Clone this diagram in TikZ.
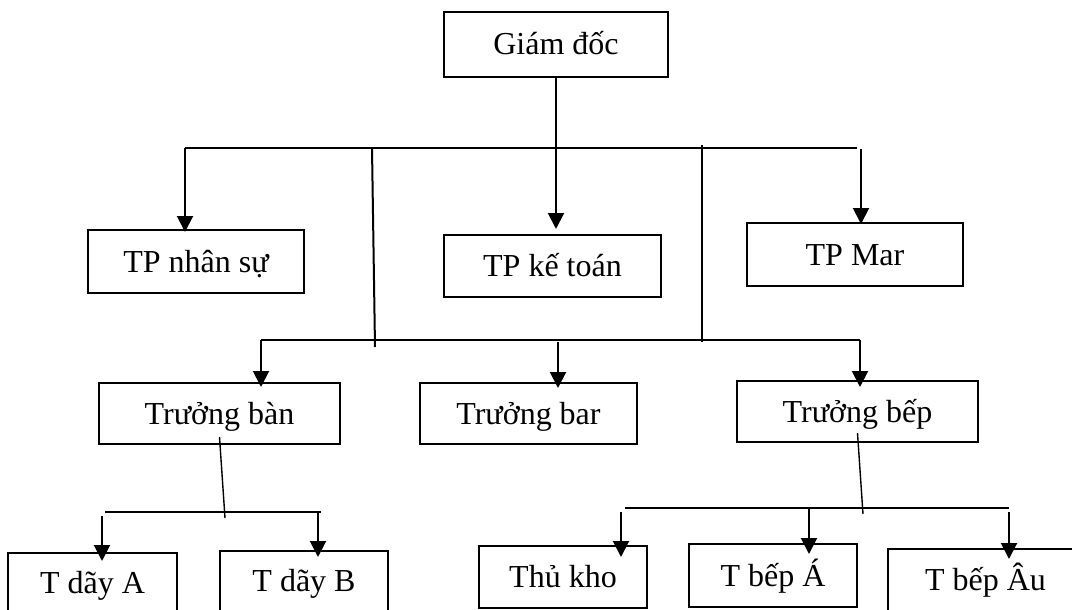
\documentclass[tikz,border=0pt]{standalone}
\usepackage{fontspec}
\setmainfont{Liberation Serif}
\usetikzlibrary{arrows.meta}

\tikzset{
  box/.style={draw, rectangle, line width=2pt, inner sep=0pt,
    text height=21pt, text depth=0pt, font=\fontsize{32}{38}\selectfont},
  link/.style={line width=2pt},
  thinlink/.style={line width=1.4pt},
  arr/.style={link, -{Triangle[width=16pt,length=16pt]}}
}

\begin{document}
\begin{tikzpicture}[x=1pt, y=-1pt]
        \clip (0,0) rectangle (1072,610);

        % Giam doc
        \node[box, minimum width=224pt, minimum height=65pt] (gd) at (556,44.5) {Giám đốc};

        % Truong phong
        \node[box, minimum width=216pt, minimum height=63pt] (tpns) at (196,261.5) {TP nhân sự};
        \node[box, minimum width=217pt, minimum height=62pt] (tpkt) at (552.5,266) {TP kế toán};
        \node[box, minimum width=216pt, minimum height=63pt] (tpmar) at (855,254.5) {TP Mar};

        % Truong bo phan
        \node[box, minimum width=241pt, minimum height=61pt] (tban) at (219.5,413.5) {Trưởng bàn};
        \node[box, minimum width=217pt, minimum height=61pt] (tbar) at (528.5,413.5) {Trưởng bar};
        \node[box, minimum width=241pt, minimum height=61pt] (tbep) at (857.5,411.5) {Trưởng bếp};

        % Cap duoi
        \node[box, minimum width=169pt, minimum height=60pt] (tdA) at (92.5,583) {T dãy A};
        \node[box, minimum width=168pt, minimum height=60pt] (tdB) at (304,581) {T dãy B};
        \node[box, minimum width=168pt, minimum height=62pt] (thukho) at (563,577) {Thủ kho};
        \node[box, minimum width=168pt, minimum height=63pt] (tbepA) at (773,575.5) {T bếp Á};
        \node[box, minimum width=195pt, minimum height=62pt] (tbepAu) at (985.5,580) {T bếp Âu};

        % Bus 1
        \coordinate (b1a) at (185,148);
        \coordinate (b1b) at (857,148);
        \coordinate (b1m) at (861,149);
        \draw[link] (b1a) -- (b1b);
        \draw[arr, shorten >=5pt] (gd.south) -- (gd.south |- tpkt.north);
        \draw[arr, shorten >=-3pt] (b1a) -- (b1a |- tpns.north);
        \draw[arr, shorten >=-2pt] (b1m) -- (b1m |- tpmar.north);

        % Verticals to bus 2
        \coordinate (v1t) at (372,148);
        \coordinate (v1b) at (375,347);
        \coordinate (v2t) at (702,145);
        \coordinate (v2b) at (702,342);
        \draw[link] (v1t) -- (v1b);
        \draw[link] (v2t) -- (v2b);

        % Bus 2
        \coordinate (b2a) at (261,340);
        \coordinate (b2b) at (860,340);
        \coordinate (b2m) at (558,342);
        \draw[link] (b2a) -- (b2b);
        \draw[arr, shorten >=-5pt] (b2a) -- (b2a |- tban.north);
        \draw[arr, shorten >=-6pt] (b2m) -- (b2m |- tbar.north);
        \draw[arr, shorten >=-7pt] (b2b) -- (b2b |- tbep.north);

        % Truong ban -> day
        \coordinate (c1) at (225,518);
        \coordinate (b3a) at (105,512);
        \coordinate (b3b) at (321,512);
        \coordinate (a1) at (102,516);
        \coordinate (a2) at (318,512);
        \draw[thinlink] ([yshift=8pt]tban.south) -- (c1);
        \draw[link] (b3a) -- (b3b);
        \draw[arr, shorten >=-9pt] (a1) -- (a1 |- tdA.north);
        \draw[arr, shorten >=-7pt] (a2) -- (a2 |- tdB.north);

        % Truong bep -> bep
        \coordinate (c2) at (863,514);
        \coordinate (b4a) at (625,508);
        \coordinate (b4b) at (1009,508);
        \coordinate (k1) at (621,512);
        \coordinate (k2) at (809,508);
        \coordinate (k3) at (1009,512);
        \draw[thinlink] ([yshift=10pt]tbep.south) -- (c2);
        \draw[link] (b4a) -- (b4b);
        \draw[arr, shorten >=-12pt] (k1) -- (k1 |- thukho.north);
        \draw[arr, shorten >=-11pt] (k2) -- (k2 |- tbepA.north);
        \draw[arr, shorten >=-11pt] (k3) -- (k3 |- tbepAu.north);
\end{tikzpicture}
\end{document}
